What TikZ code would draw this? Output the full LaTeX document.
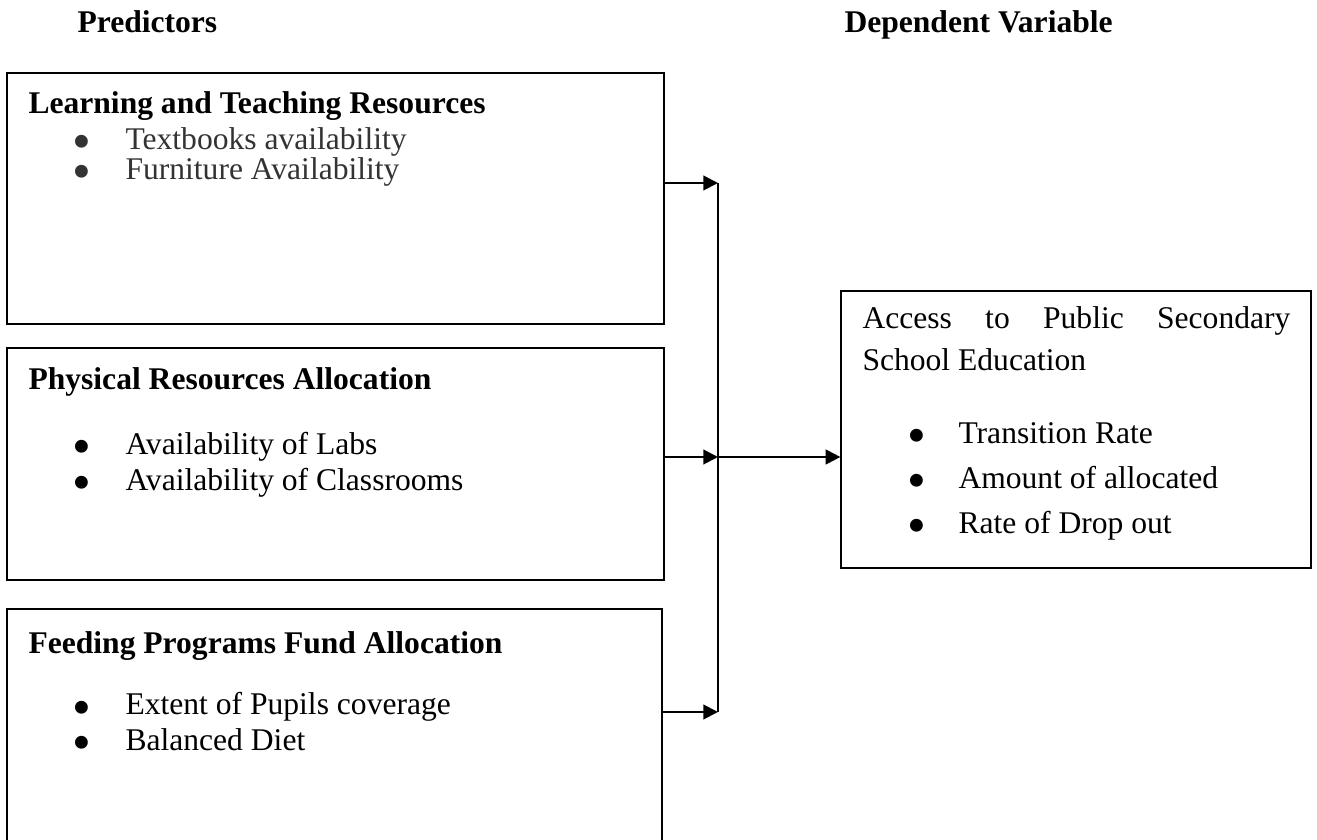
\documentclass[tikz,border=0pt]{standalone}
\usepackage{fontspec}
\setmainfont{Liberation Serif}
\usetikzlibrary{arrows.meta,fit}

\tikzset{
  box/.style={draw,line width=0.45pt,inner sep=0pt},
  txt/.style={anchor=base west,inner sep=0pt,font=\fontsize{12}{14}\selectfont},
  head/.style={txt,font=\fontsize{12}{14}\selectfont\bfseries},
  dot/.style={anchor=base,inner sep=0pt,font=\fontsize{12}{14}\selectfont},
  link/.style={line width=0.8pt,-{Triangle[length=5.6pt,width=5.6pt]}},
}

% bullet item: name, bullet x, text x, baseline y, text
\newcommand{\pitem}[5]{%
  \node[dot] (#1d) at (#2,#4) {\smash{\raisebox{-3.8pt}{\scalebox{1.7}{•}}}};
  \node[txt] (#1) at (#3,#4) {#5};}

\begin{document}
\begin{tikzpicture}[x=0.38pt,y=-0.38pt]
    \clip (0,0) rectangle (1317,840);

    % column titles
    \node[head] (pred) at (77,33) {Predictors};
    \node[head] (dep) at (844,33) {Dependent Variable};

    % predictor boxes
    \node[box,fit={(7,73) (664,324)}] (ltr) {};
    \node[head] (ltrh) at (28,114) {Learning and Teaching Resources};
    \begin{scope}[every node/.append style={text=black!80}]
    \pitem{tb}{82}{125}{150}{Textbooks availability}
    \pitem{fa}{82}{125}{180}{Furniture Availability}
    \end{scope}

    \node[box,fit={(7,348) (664,580)}] (pra) {};
    \node[head] (prah) at (28,390) {Physical Resources Allocation};
    \pitem{lab}{82}{125}{455}{Availability of Labs}
    \pitem{cls}{82}{125}{491}{Availability of Classrooms}

    \node[box,fit={(7,609) (662,900)}] (fpf) {};
    \node[head] (fpfh) at (28,654) {Feeding Programs Fund Allocation};
    \pitem{ext}{82}{125}{715}{Extent of Pupils coverage}
    \pitem{bal}{82}{125}{750}{Balanced Diet}

    % dependent box
    \node[box,fit={(841,291) (1311,568)}] (acc) {};
    \node[txt] (acc1) at (862,329) {\makebox[162.6pt][s]{Access to Public Secondary}};
    \node[txt] (acc2) at (862,371) {School Education};
    \pitem{tr}{917}{958}{444}{Transition Rate}
    \pitem{am}{917}{958}{489}{Amount of allocated}
    \pitem{dr}{917}{958}{534}{Rate of Drop out}

    % connectors
    \coordinate (j1) at (718,183);
    \coordinate (j2) at (718,457);
    \coordinate (j3) at (718,712);
    \draw[line width=0.45pt] (j1) -- (j3);
    \draw[link] (ltr.east |- j1) -- (j1);
    \draw[link] (pra.east |- j2) -- (j2);
    \draw[link] (fpf.east |- j3) -- (j3);
    \draw[link] (j2) -- (acc.west |- j2);
\end{tikzpicture}
\end{document}
